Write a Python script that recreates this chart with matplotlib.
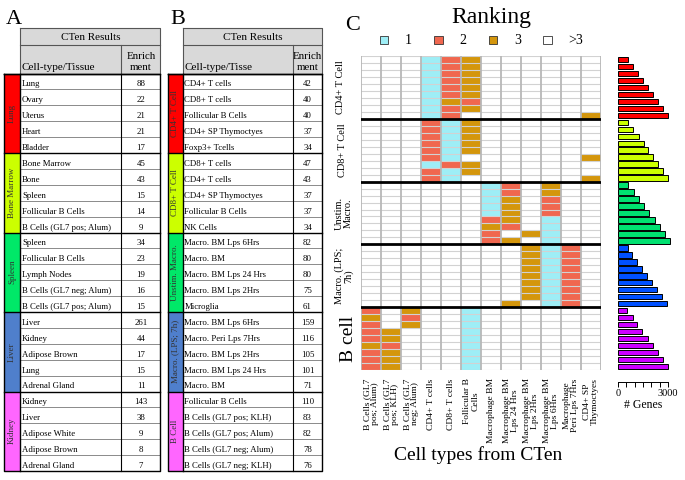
import numpy as np
import matplotlib.pyplot as plt
from matplotlib.colors import ListedColormap
from matplotlib.patches import Rectangle

plt.rcParams['font.family'] = ['Liberation Serif', 'DejaVu Serif']

# --- dane: tabela A ---
table_a_groups = ["Lung", "Bone Marrow", "Spleen", "Liver", "Kidney"]
table_a_names = ["Lung", "Ovary", "Uterus", "Heart", "Bladder",
                 "Bone Marrow", "Bone", "Spleen", "Follicular B Cells", "B Cells (GL7 pos; Alum)",
                 "Spleen", "Follicular B Cells", "Lymph Nodes", "B Cells (GL7 neg; Alum)", "B Cells (GL7 pos; Alum)",
                 "Liver", "Kidney", "Adipose Brown", "Lung", "Adrenal Gland",
                 "Kidney", "Liver", "Adipose White", "Adipose Brown", "Adrenal Gland"]
table_a_values = [88, 22, 21, 21, 17,
                  45, 43, 15, 14, 9,
                  34, 23, 19, 16, 15,
                  261, 44, 17, 15, 11,
                  143, 38, 9, 8, 7]

# --- dane: tabela B ---
table_b_groups = ["CD4+ T Cell", "CD8+ T Cell", "Unstim. Macro.", "Macro. (LPS; 7h)", "B Cell"]
table_b_names = ["CD4+ T cells", "CD8+ T cells", "Follicular B Cells", "CD4+ SP Thymoctyes", "Foxp3+ Tcells",
                 "CD8+ T cells", "CD4+ T cells", "CD4+ SP Thymoctyes", "Follicular B Cells", "NK Cells",
                 "Macro. BM Lps 6Hrs", "Macro. BM", "Macro. BM Lps 24 Hrs", "Macro. BM Lps 2Hrs", "Microglia",
                 "Macro. BM Lps 6Hrs", "Macro. Peri Lps 7Hrs", "Macro. BM Lps 2Hrs", "Macro. BM Lps 24 Hrs", "Macro. BM",
                 "Follicular B Cells", "B Cells (GL7 pos; KLH)", "B Cells (GL7 pos; Alum)", "B Cells (GL7 neg; Alum)",
                 "B Cells (GL7 neg; KLH)"]
table_b_values = [42, 40, 40, 37, 34,
                  47, 43, 37, 37, 34,
                  82, 80, 80, 75, 61,
                  159, 116, 105, 101, 71,
                  110, 83, 82, 78, 76]

# --- dane: heatmapa rankingu (0 = >3) ---
heat_columns = ["B Cells (GL7\npos; Alum)", "B Cells (GL7\npos; KLH)", "B Cells (GL7\nneg; Alum)",
                "CD4+ T cells", "CD8+ T cells", "Follicular B\nCells", "Macrophage BM",
                "Macrophage BM\nLps 24 Hrs", "Macrophage BM\nLps 2Hrs", "Macrophage BM\nLps 6Hrs",
                "Macrophage\nPeri Lps 7Hrs", "CD4+ SP\nThymoctyes"]
heat_groups = ["CD4+ T Cell", "CD8+ T Cell", "Unstim.\nMacro.", "Macro. (LPS;\n7h)", "B cell"]
rank_cd4 = ["000123000000", "000123000000", "000123000000", "000123000000", "000123000000",
            "000123000000", "000132000000", "000123000000", "000120000003"]
rank_cd8 = ["000213000000", "000213000000", "000213000000", "000213000000", "000213000000",
            "000210000003", "000123000000", "000213000000", "000210000003"]
rank_unstim = ["000000120300", "000000120300", "000000130200", "000000130200", "000000130200",
               "000000230100", "000000320100", "000000203100", "000000230100"]
rank_lps = ["000000003120", "000000003120", "000000003120", "000000003120", "000000003120",
            "000000003120", "000000003120", "000000003120", "000000030120"]
rank_bcell = ["203001000000", "302001000000", "203001000000", "230001000000", "230001000000",
              "320001000000", "230001000000", "230001000000", "230001000000"]

# --- dane: liczba genów ---
genes_cd4 = [600, 900, 1200, 1500, 1800, 2100, 2400, 2700, 3000]
genes_cd8 = [600, 900, 1260, 1560, 1800, 2100, 2400, 2700, 3000]
genes_unstim = [600, 960, 1260, 1560, 1860, 2200, 2500, 2800, 3100]
genes_lps = [600, 840, 1140, 1460, 1740, 2040, 2340, 2640, 2940]
genes_bcell = [540, 900, 1140, 1460, 1800, 2100, 2400, 2700, 3000]

table_colors = ['#ff0000', '#ccff00', '#00e868', '#4f7fcc', '#ff66ff']
bar_colors = ['#ff0000', '#ccff00', '#00e070', '#0050ff', '#cc00ff']
rank_colors = ['#ffffff', '#9eeef6', '#f0674f', '#d4960c']

W, H = 685, 480
fig = plt.figure(figsize=(6.85, 4.8), dpi=100)
bg = fig.add_axes([0, 0, 1, 1])
bg.set_xlim(0, W)
bg.set_ylim(H, 0)
bg.axis('off')


def draw_table(strip_x0, x0, xdiv, x1, header2, groups, names, values, colors):
    top, mid, hdr_bot, row_h = 28, 45, 73.5, 15.9
    bottom = hdr_bot + len(names) * row_h
    bg.add_patch(Rectangle((x0, top), x1 - x0, hdr_bot - top, fc='#d9d9d9', ec='none'))
    bg.plot([x0, x1, x1, x0, x0], [top, top, hdr_bot, hdr_bot, top], color='#555555', lw=0.8)
    bg.plot([x0, x1], [mid, mid], color='#555555', lw=0.8)
    bg.plot([xdiv, xdiv], [mid, hdr_bot], color='#555555', lw=0.8)
    bg.text((x0 + x1) / 2, (top + mid) / 2 + 1, "CTen Results", ha='center', va='center', fontsize=8)
    bg.text(x0 + 1.5, hdr_bot - 3, header2, ha='left', va='baseline', fontsize=8)
    bg.text((xdiv + x1) / 2, hdr_bot - 3, "Enrich\nment", ha='center', va='baseline',
            fontsize=7.8, linespacing=1.3)
    per = len(names) // len(groups)
    for i, (nm, v) in enumerate(zip(names, values)):
        y = hdr_bot + i * row_h
        bg.text(x0 + 1.5, y + row_h - 3, nm, ha='left', va='baseline', fontsize=6.3)
        bg.text((xdiv + x1) / 2, y + row_h - 3, str(v), ha='center', va='baseline', fontsize=6.3)
        if i % per != per - 1:
            bg.plot([x0, x1], [y + row_h, y + row_h], color='#8a8a8a', lw=0.7)
    for g, (name, c) in enumerate(zip(groups, colors)):
        y = hdr_bot + g * per * row_h
        bg.add_patch(Rectangle((strip_x0, y), x0 - strip_x0, per * row_h, fc=c, ec='none'))
        bg.text((strip_x0 + x0) / 2, y + per * row_h / 2, name, rotation=90, ha='center',
                va='center', fontsize=6.5, color='#333333')
        bg.plot([strip_x0, x1], [y, y], color='black', lw=1.0)
    bg.plot([strip_x0, x1, x1, strip_x0, strip_x0], [hdr_bot, hdr_bot, bottom, bottom, hdr_bot],
            color='black', lw=1.0)
    bg.plot([x0, x0], [hdr_bot, bottom], color='black', lw=1.0)
    bg.plot([xdiv, xdiv], [hdr_bot, bottom], color='black', lw=0.8)


draw_table(4, 20.5, 121.5, 160.5, "Cell-type/Tissue", table_a_groups, table_a_names, table_a_values, table_colors)
draw_table(168, 183, 293, 322, "Cell-type/Tisse", table_b_groups, table_b_names, table_b_values, table_colors)

bg.text(14, 20, "A", ha='center', va='center', fontsize=16)
bg.text(178, 20, "B", ha='center', va='center', fontsize=16)
bg.text(353, 25, "C", ha='center', va='center', fontsize=16)

# --- C: tytuł i legenda ---
bg.text(491, 17, "Ranking", ha='center', va='center', fontsize=17)
legend_labels = ['1', '2', '3', '>3']
legend_fill = [rank_colors[1], rank_colors[2], rank_colors[3], rank_colors[0]]
for k, (lab, c) in enumerate(zip(legend_labels, legend_fill)):
    sx = 380 + k * 54.5
    bg.add_patch(Rectangle((sx, 36), 8.5, 8, fc=c, ec='#333333', lw=0.6))
    bg.text(sx + 25, 40.5, lab, ha='left', va='center', fontsize=10)

# --- C: heatmapa ---
blocks = [rank_cd4, rank_cd8, rank_unstim, rank_lps, rank_bcell]
ranks = np.array([[int(ch) for ch in row] for blk in blocks for row in blk])
n_rows, n_cols = ranks.shape
per_block = len(rank_cd4)

x_l, x_r, y_t, y_b = 361, 601, 56, 370
ax = fig.add_axes([x_l / W, 1 - y_b / H, (x_r - x_l) / W, (y_b - y_t) / H])
ax.pcolormesh(np.arange(n_cols + 1), np.arange(n_rows + 1), ranks,
              cmap=ListedColormap(rank_colors), vmin=-0.5, vmax=3.5)
ax.set_xlim(0, n_cols)
ax.set_ylim(n_rows, 0)
for r in range(n_rows + 1):
    if r % per_block == 0 and 0 < r < n_rows:
        continue
    ax.axhline(r, color='#d2d2d2', lw=0.8)
for c in range(n_cols + 1):
    ax.axvline(c, color='#b8b8b8', lw=1.3)
for r in range(per_block, n_rows, per_block):
    ax.axhline(r, color='black', lw=2.0)
for s in ax.spines.values():
    s.set_visible(False)
ax.set_xticks(np.arange(n_cols) + 0.5)
ax.set_xticklabels(heat_columns, rotation=90, va='top', ha='center', fontsize=6.8, linespacing=1.05)
ax.tick_params(axis='x', length=0, pad=6)
ax.set_yticks([])

group_label_x = [341, 343, 344, 344, 349]
for g, lab in enumerate(heat_groups):
    yc = y_t + (g + 0.5) * per_block * (y_b - y_t) / n_rows
    fs = 14 if lab == "B cell" else 7.5
    bg.text(group_label_x[g], yc, lab, rotation=90, ha='center', va='center', fontsize=fs,
            linespacing=1.0)

bg.text(478, 455, "Cell types from CTen", ha='center', va='center', fontsize=14)

# --- C: liczba genów ---
genes = genes_cd4 + genes_cd8 + genes_unstim + genes_lps + genes_bcell
bar_col = [bar_colors[i // per_block] for i in range(len(genes))]
bar_bottom = 382
axb = fig.add_axes([618 / W, 1 - bar_bottom / H, 50 / W, (bar_bottom - y_t) / H])
axb.barh(np.arange(len(genes)) + 0.5, genes, height=0.78, color=bar_col, edgecolor='black',
         linewidth=0.7, clip_on=False)
rows_px = (y_b - y_t) / n_rows
axb.set_ylim(n_rows + (bar_bottom - y_b) / rows_px, 0)
axb.set_xlim(0, 3000)
axb.set_xticks(range(0, 3001, 500))
axb.set_xticklabels(['0', '', '', '', '', '', '3000'], fontsize=7.5)
axb.tick_params(axis='x', length=3.5, width=0.7, pad=1.5)
axb.set_yticks([])
for side in ['top', 'right', 'left']:
    axb.spines[side].set_visible(False)
axb.spines['bottom'].set_linewidth(0.7)
axb.set_xlabel("# Genes", fontsize=8.5, labelpad=1)

plt.savefig("out.png", dpi=100)
